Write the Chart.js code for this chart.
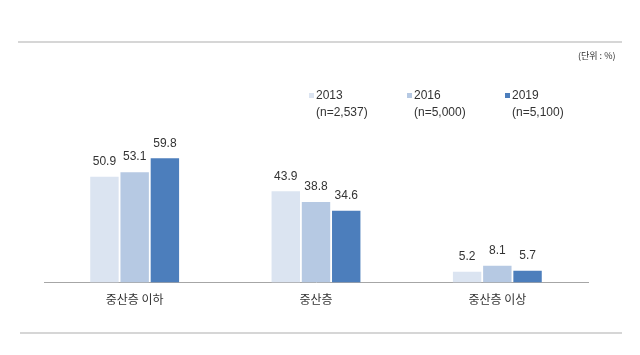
<!DOCTYPE html>
<html><head><meta charset="utf-8">
<script src="https://cdn.jsdelivr.net/npm/chart.js@4"></script>
<style>
html,body{margin:0;padding:0;background:#fff;}
#wrap{position:relative;width:640px;height:355px;overflow:hidden;font-family:"Liberation Sans","Noto Sans CJK KR",sans-serif;color:#333;}
canvas{position:absolute;left:0;top:0;}
.hl{position:absolute;height:2px;background:#d6d6d6;}
.t{position:absolute;font-size:11px;white-space:nowrap;line-height:14px;}
.sw{position:absolute;width:5px;height:5px;}
.lg{position:absolute;font-size:12px;line-height:17px;white-space:nowrap;}
</style></head>
<body><div id="wrap">
<canvas id="c" width="640" height="355"></canvas>
<div class="hl" style="left:18px;top:41px;width:604px;"></div>
<div class="hl" style="left:20px;top:332px;width:602px;"></div>
<div class="t" style="left:578px;top:49px;font-family:'Noto Sans CJK KR';font-size:9px;">(단위 : %)</div>
<div id="legend"></div>
</div>
<script>
const categories = ["중산층 이하", "중산층", "중산층 이상"];
const seriesNames = ["2013", "2016", "2019"];
const seriesN = ["(n=2,537)", "(n=5,000)", "(n=5,100)"];
const v2013 = [50.9, 43.9, 5.2];
const v2016 = [53.1, 38.8, 8.1];
const v2019 = [59.8, 34.6, 5.7];
const colors = ["#dbe4f1", "#b6c9e3", "#4c7ebc"];

const legendX = [309, 407, 505];
const lg = document.getElementById('legend');
seriesNames.forEach((s, i) => {
  const sw = document.createElement('div');
  sw.className = 'sw';
  sw.style.left = legendX[i] + 'px'; sw.style.top = '93px'; sw.style.background = colors[i];
  lg.appendChild(sw);
  const t = document.createElement('div');
  t.className = 'lg';
  t.style.left = (legendX[i] + 7) + 'px'; t.style.top = '87px';
  t.innerHTML = s + '<br>' + seriesN[i];
  lg.appendChild(t);
});

const valueLabels = {
  id: 'valueLabels',
  afterDatasetsDraw(chart) {
    const ctx = chart.ctx;
    ctx.save();
    ctx.font = '12px "Liberation Sans", sans-serif';
    ctx.fillStyle = '#333';
    ctx.textAlign = 'center';
    ctx.textBaseline = 'bottom';
    chart.data.datasets.forEach((ds, di) => {
      chart.getDatasetMeta(di).data.forEach((bar, i) => {
        ctx.fillText(ds.data[i].toFixed(1), bar.x, bar.y - 9);
      });
    });
    ctx.restore();
  }
};

new Chart(document.getElementById('c'), {
  type: 'bar',
  data: {
    labels: categories,
    datasets: [
      { label: seriesNames[0], data: v2013, backgroundColor: colors[0] },
      { label: seriesNames[1], data: v2016, backgroundColor: colors[1] },
      { label: seriesNames[2], data: v2019, backgroundColor: colors[2] }
    ]
  },
  options: {
    responsive: false,
    animation: false,
    layout: { padding: { left: 44, right: 52, top: 137, bottom: 38 } },
    plugins: { legend: { display: false }, tooltip: { enabled: false } },
    datasets: { bar: { categoryPercentage: 0.5, barPercentage: 0.94 } },
    scales: {
      x: {
        grid: { display: false, drawTicks: false },
        border: { display: true, color: '#a6a6a6', width: 1 },
        ticks: { color: '#333', padding: 10, font: { family: 'Noto Sans CJK KR', size: 12 } }
      },
      y: {
        display: false,
        min: 0, max: 70
      }
    }
  },
  plugins: [valueLabels]
});
</script>
</body></html>
